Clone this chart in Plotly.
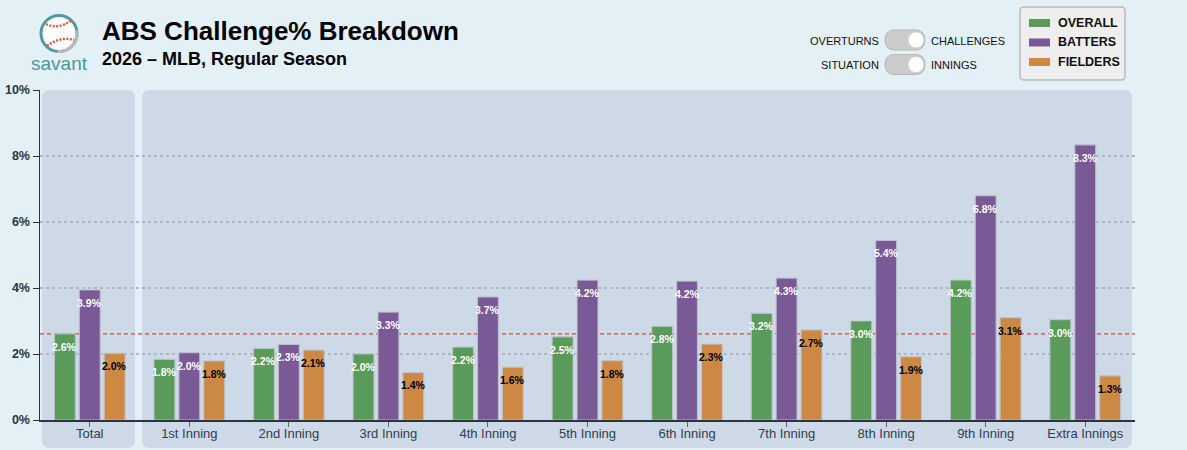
import math
import plotly.graph_objects as go

categories = ["Total", "1st Inning", "2nd Inning", "3rd Inning", "4th Inning", "5th Inning",
              "6th Inning", "7th Inning", "8th Inning", "9th Inning", "Extra Innings"]
overall = [2.61, 1.84, 2.17, 2.00, 2.21, 2.52, 2.84, 3.23, 3.00, 4.24, 3.04]
batters = [3.94, 2.04, 2.29, 3.27, 3.73, 4.24, 4.21, 4.30, 5.44, 6.80, 8.34]
fielders = [2.02, 1.79, 2.12, 1.44, 1.60, 1.80, 2.30, 2.73, 1.92, 3.10, 1.34]
series_names = ["OVERALL", "BATTERS", "FIELDERS"]
series_colors = ["#5a9a5a", "#7a5a96", "#cd8844"]
text_colors = ["white", "white", "black"]
y_ticks = [0, 2, 4, 6, 8, 10]
y_tick_labels = [f"{v}%" for v in y_ticks]
reference_value = overall[0]

W, H = 1187, 450
ML, MR, MT, MB = 40, 52, 90, 30
PW, PH = W - ML - MR, H - MT - MB
FONT = "Liberation Sans, Arial, sans-serif"
BG = "#e3f0f5"
PANEL = "#cdd9e7"
BARGAP, GROUPGAP = 0.25, 0.16


def px(x):
    return (x - ML) / PW


def py(y):
    return (H - MB - y) / PH


def rrect(x0, x1, y0, y1, rx, ry):
    return (f"M {x0+rx},{y1} L {x1-rx},{y1} Q {x1},{y1} {x1},{y1-ry} "
            f"L {x1},{y0+ry} Q {x1},{y0} {x1-rx},{y0} L {x0+rx},{y0} "
            f"Q {x0},{y0} {x0},{y0+ry} L {x0},{y1-ry} Q {x0},{y1} {x0+rx},{y1} Z")


unit = PW / len(categories)
slot = unit * (1 - BARGAP) / 3

fig = go.Figure()
annotations = []
for k, (name, vals, col, tcol) in enumerate(zip(series_names, [overall, batters, fielders],
                                               series_colors, text_colors)):
    fig.add_trace(go.Bar(
        x=categories, y=vals, name=name,
        marker=dict(color=col, line=dict(color="rgba(190,195,205,0.85)", width=1.2)),
        hoverinfo="skip", showlegend=False,
    ))
    for c, v in zip(categories, vals):
        annotations.append(dict(xref="x", yref="y", x=c, y=v, xshift=(k - 1) * slot, yshift=-5,
                                text=f"<b>{v:.1f}%</b>", showarrow=False,
                                xanchor="center", yanchor="top",
                                font=dict(family=FONT, size=10.5, color=tcol)))

shapes = []
rx = 8 / unit
ry = 8 / PH
shapes.append(dict(type="path", xref="x", yref="paper", layer="below",
                   path=rrect(-0.48, 0.455, py(448), py(90), rx, ry),
                   fillcolor=PANEL, line=dict(width=0)))
shapes.append(dict(type="path", xref="x", yref="paper", layer="below",
                   path=rrect(0.525, len(categories) - 0.53, py(448), py(90), rx, ry),
                   fillcolor=PANEL, line=dict(width=0)))
shapes.append(dict(type="line", xref="paper", yref="y", x0=0, x1=1,
                   y0=reference_value, y1=reference_value, layer="between",
                   line=dict(color="#f03a3a", width=1.2, dash="4px,3px")))

# logo
cx, cy, r = 59, 33.5, 18
shapes.append(dict(type="circle", xref="paper", yref="paper",
                   x0=px(cx - r), x1=px(cx + r), y0=py(cy + r), y1=py(cy - r),
                   fillcolor="white", line=dict(color="#4d9ba0", width=3)))
pts = [(cx + r * math.cos(math.radians(a)), cy + r * math.sin(math.radians(a))) for a in range(-10, 100, 5)]
shapes.append(dict(type="path", xref="paper", yref="paper",
                   path="M " + " L ".join(f"{px(a)},{py(b)}" for a, b in pts),
                   line=dict(color="#b9b9b9", width=3)))
shapes.append(dict(type="path", xref="paper", yref="paper",
                   path=f"M {px(46)},{py(24)} Q {px(58)},{py(30)} {px(72)},{py(20)}",
                   line=dict(color="#e8563a", width=2.5, dash="2px,1.5px")))
shapes.append(dict(type="path", xref="paper", yref="paper",
                   path=f"M {px(47)},{py(46)} Q {px(60)},{py(36)} {px(74)},{py(40)}",
                   line=dict(color="#e8563a", width=2.5, dash="2px,1.5px")))

# toggles
for ty in [40, 64.5]:
    shapes.append(dict(type="path", xref="paper", yref="paper",
                       path=rrect(px(885), px(925), py(ty + 10), py(ty - 10), 10 / PW, 10 / PH),
                       fillcolor="#cccccc", line=dict(color="#b5b5b5", width=1)))
    shapes.append(dict(type="circle", xref="paper", yref="paper",
                       x0=px(908), x1=px(924), y0=py(ty + 8), y1=py(ty - 8),
                       fillcolor="white", line=dict(color="#bbbbbb", width=0.5)))

# legend box
shapes.append(dict(type="path", xref="paper", yref="paper",
                   path=rrect(px(1020), px(1125), py(80), py(7), 4 / PW, 4 / PH),
                   fillcolor="#eeeeee", line=dict(color="#bbbbbb", width=1.5)))

for i, (name, col) in enumerate(zip(series_names, series_colors)):
    yc = 23 + i * 19.5
    shapes.append(dict(type="rect", xref="paper", yref="paper",
                       x0=px(1029), x1=px(1050), y0=py(yc + 4), y1=py(yc - 4),
                       fillcolor=col, line=dict(width=0)))
    annotations.append(dict(xref="paper", yref="paper", x=px(1056), y=py(yc),
                            text=f"<b>{name}</b>", showarrow=False, xanchor="left", yanchor="middle",
                            font=dict(family=FONT, size=12.5, color="#111")))

annotations += [
    dict(xref="paper", yref="paper", x=px(100), y=py(31), text="<b>ABS Challenge% Breakdown</b>",
         showarrow=False, xanchor="left", yanchor="middle", font=dict(family=FONT, size=26, color="black")),
    dict(xref="paper", yref="paper", x=px(100), y=py(59), text="<b>2026 – MLB, Regular Season</b>",
         showarrow=False, xanchor="left", yanchor="middle", font=dict(family=FONT, size=18, color="black")),
    dict(xref="paper", yref="paper", x=px(59), y=py(63), text="savant",
         showarrow=False, xanchor="center", yanchor="middle", font=dict(family=FONT, size=19, color="#4a97a3")),
    dict(xref="paper", yref="paper", x=px(881), y=py(41), text="OVERTURNS",
         showarrow=False, xanchor="right", yanchor="middle", font=dict(family=FONT, size=11, color="#111")),
    dict(xref="paper", yref="paper", x=px(929), y=py(41), text="CHALLENGES",
         showarrow=False, xanchor="left", yanchor="middle", font=dict(family=FONT, size=11, color="#111")),
    dict(xref="paper", yref="paper", x=px(881), y=py(65), text="SITUATION",
         showarrow=False, xanchor="right", yanchor="middle", font=dict(family=FONT, size=11, color="#111")),
    dict(xref="paper", yref="paper", x=px(929), y=py(65), text="INNINGS",
         showarrow=False, xanchor="left", yanchor="middle", font=dict(family=FONT, size=11, color="#111")),
]

fig.update_layout(
    width=W, height=H, margin=dict(l=ML, r=MR, t=MT, b=MB, pad=0, autoexpand=False),
    paper_bgcolor=BG, plot_bgcolor="rgba(0,0,0,0)",
    barmode="group", bargap=BARGAP, bargroupgap=GROUPGAP,
    font=dict(family=FONT, color="#2c3e50"),
    shapes=shapes, annotations=annotations, showlegend=False,
    xaxis=dict(range=[-0.5, len(categories) - 0.5], showline=True, linecolor="#2b3540", linewidth=1.5,
               ticks="outside", ticklen=5, tickcolor="#666", showgrid=False, fixedrange=True,
               automargin=False, ticklabelstandoff=-4,
               tickfont=dict(family=FONT, size=13, color="#2f3e4f")),
    yaxis=dict(range=[0, 10], tickvals=y_ticks, ticktext=y_tick_labels, showline=True, linecolor="#2b3540",
               linewidth=1.5, ticks="outside", ticklen=6, tickcolor="#2b3540", automargin=False,
               fixedrange=True,
               showgrid=True, gridcolor="#b0b7bf", gridwidth=2, griddash="3px,3px", zeroline=False,
               tickfont=dict(family=FONT, size=12.5, color="#2a3544", weight="bold")),
)

fig.write_html("out.html", config={"displayModeBar": False, "staticPlot": True},
               post_script="document.body.style.margin='0';document.body.style.overflow='hidden';"
                           f"document.body.style.background='{BG}';")
